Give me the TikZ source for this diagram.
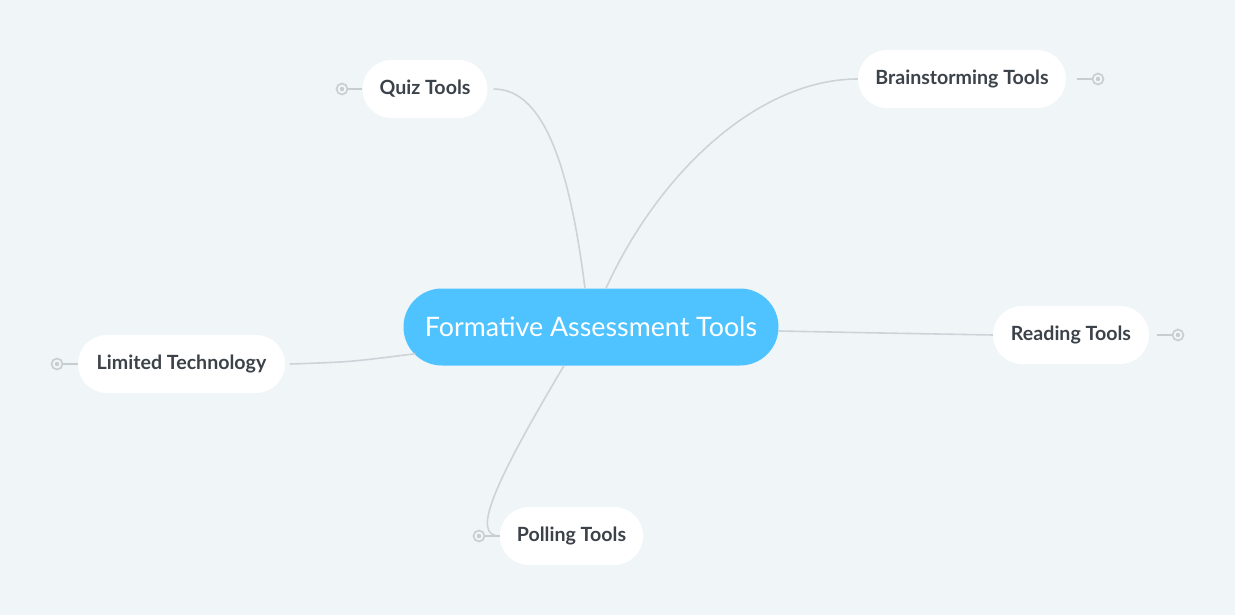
\documentclass[tikz,border=0pt]{standalone}
\usepackage{fontspec}
\setmainfont{Lato}
\usepackage{xcolor}
\usetikzlibrary{positioning, calc}
\definecolor{bgcol}{RGB}{240,245,248}
\definecolor{rootcol}{RGB}{79,195,255}
\definecolor{txtcol}{RGB}{60,66,74}
\definecolor{linecol}{RGB}{205,211,216}
\definecolor{markcol}{RGB}{200,205,210}
\tikzset{
  rootbox/.style={fill=rootcol, rounded corners=38.5pt, minimum width=375pt, minimum height=77pt, text=white, font=\fontsize{26.8}{30}\selectfont},
  topicbox/.style={fill=white, rounded corners=29pt, minimum height=58pt, inner xsep=17pt, text=txtcol, font=\bfseries\fontsize{19.6}{23}\selectfont},
  branch/.style={draw=linecol, line width=1.6pt},
  marker/.style={circle, draw=markcol, line width=1.6pt, fill=bgcol, minimum size=11pt, inner sep=0pt, path picture={\fill[markcol] (path picture bounding box.center) circle (2.2pt);}},
}
\begin{document}
\begin{tikzpicture}[x=1pt, y=-1pt]
		\fill[bgcol] (0,0) rectangle (1235,615);
		\useasboundingbox (0,0) rectangle (1235,615);

		\node[rootbox] (root) at (591,327) {Formative Assessment Tools};

		\node[topicbox, minimum width=124pt] (quiz) at (425,89) {Quiz Tools};
		\node[topicbox, minimum width=208pt] (brain) at (962,79) {Brainstorming Tools};
		\node[topicbox, minimum width=156pt] (read) at (1071,335) {Reading Tools};
		\node[topicbox, minimum width=207pt] (limit) at (181.5,364) {Limited Technology};
		\node[topicbox, minimum width=143pt] (poll) at (571.5,536) {Polling Tools};

		\node[marker] (mquiz) at (342,89) {};
		\node[marker] (mbrain) at (1098,79) {};
		\node[marker] (mread) at (1178,335) {};
		\node[marker] (mlimit) at (57,364) {};
		\node[marker] (mpoll) at (479,536) {};

		% branches from the root
		\draw[branch] ($(root.north)+(-6,0)$) .. controls (570,170) and (545,89) .. ($(quiz.east)+(6,0)$);
		\draw[branch] ($(root.north)+(15,0)$) .. controls (660,170) and (760,79) .. (brain.west);
		\draw[branch] ($(root.east)+(0,4)$) .. controls (880,333) .. (read.west);
		\draw[branch] ($(root.south west)+(12,-12)$) .. controls (350,362) .. ($(limit.east)+(5,0)$);
		\draw[branch] ($(root.south)+(-27,0)$) .. controls (490,490) and (472,536) .. (poll.west);

		% short stubs to the markers
		\draw[branch, draw=markcol] (mquiz) -- (quiz);
		\draw[branch, draw=markcol] (brain.east)+(11,0) -- (mbrain);
		\draw[branch, draw=markcol] (read.east)+(8,0) -- (mread);
		\draw[branch, draw=markcol] (mlimit) -- (limit);
		\draw[branch, draw=markcol] (mpoll) -- (poll);
	\end{tikzpicture}
\end{document}
